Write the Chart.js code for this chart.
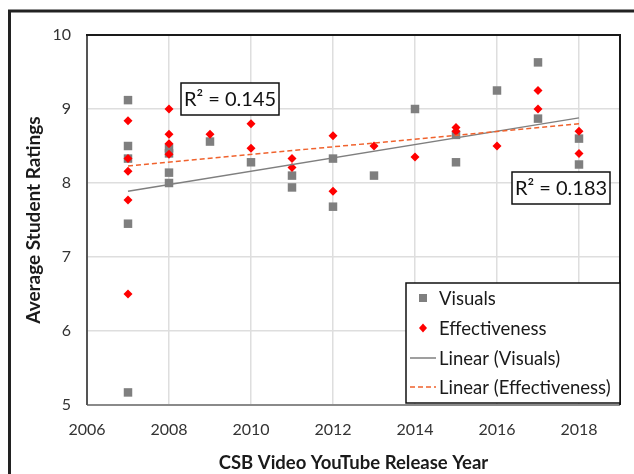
<!DOCTYPE html>
<html>
<head>
<meta charset="utf-8">
<script src="https://cdn.jsdelivr.net/npm/chart.js@4/dist/chart.umd.min.js"></script>
<style>
  html, body { margin: 0; padding: 0; background: #ffffff; }
  #wrap { width: 634px; height: 474px; }
</style>
</head>
<body>
<div id="wrap"><canvas id="chart" width="634" height="474"></canvas></div>
<script>
// Ratings per video, by YouTube release year
const visualsYears  = [2007, 2007, 2007, 2007, 2007, 2008, 2008, 2008, 2008, 2009, 2010, 2011, 2011, 2012, 2012, 2013, 2014, 2015, 2015, 2016, 2017, 2017, 2018, 2018];
const visualsScores = [9.12, 8.50, 8.33, 7.45, 5.17, 8.47, 8.40, 8.14, 8.00, 8.56, 8.28, 8.10, 7.94, 8.33, 7.68, 8.10, 9.00, 8.65, 8.28, 9.25, 9.63, 8.87, 8.60, 8.25];

const effectivenessYears  = [2007, 2007, 2007, 2007, 2007, 2008, 2008, 2008, 2008, 2009, 2010, 2010, 2011, 2011, 2012, 2012, 2013, 2014, 2015, 2015, 2016, 2017, 2017, 2018, 2018];
const effectivenessScores = [8.84, 8.33, 8.16, 7.77, 6.50, 9.00, 8.66, 8.53, 8.39, 8.66, 8.80, 8.47, 8.33, 8.21, 8.64, 7.89, 8.50, 8.35, 8.75, 8.70, 8.50, 9.25, 9.00, 8.70, 8.40];

// Linear trend lines (end points) and their fit quality
const trendYears = [2007, 2018];
const visualsTrend = [7.89, 8.88];
const effectivenessTrend = [8.23, 8.80];
const visualsR2 = '0.183';
const effectivenessR2 = '0.145';

// Axis settings
const xTicks = [2006, 2008, 2010, 2012, 2014, 2016, 2018];
const yTicks = [5, 6, 7, 8, 9, 10];

const legendLabels = ['Visuals', 'Effectiveness', 'Linear (Visuals)', 'Linear (Effectiveness)'];

const FONT = 'Lato, "Open Sans", sans-serif';
const GREY = '#7f7f7f';
const RED = '#ff0000';
const ORANGE = '#f0622d';

const toPoints = (xs, ys) => xs.map((x, i) => ({ x: x, y: ys[i] }));

const framePlugin = {
  id: 'frame',
  beforeDatasetsDraw(chart) {
    const { ctx, chartArea: a } = chart;
    ctx.save();
    ctx.lineWidth = 2;
    ctx.strokeStyle = '#8a8a8a';
    ctx.beginPath(); ctx.moveTo(a.left, a.bottom); ctx.lineTo(a.right, a.bottom); ctx.stroke();
    ctx.strokeStyle = '#555555';
    ctx.beginPath(); ctx.moveTo(a.left, a.top); ctx.lineTo(a.left, a.bottom); ctx.stroke();
    ctx.strokeStyle = '#1a1a1a';
    ctx.beginPath(); ctx.moveTo(a.left - 1, a.top); ctx.lineTo(a.right, a.top); ctx.lineTo(a.right, a.bottom); ctx.stroke();
    ctx.restore();
  },
  afterDraw(chart) {
    const { ctx, chartArea: a } = chart;
    ctx.save();

    // R² boxes
    const r2Box = (cx, cy, text) => {
      ctx.font = '20px ' + FONT;
      const w = 98, h = 32;
      ctx.fillStyle = '#ffffff';
      ctx.fillRect(cx - w / 2, cy - h / 2, w, h);
      ctx.lineWidth = 1.5;
      ctx.strokeStyle = '#111111';
      ctx.strokeRect(cx - w / 2, cy - h / 2, w, h);
      ctx.fillStyle = '#111111';
      ctx.textAlign = 'center';
      ctx.textBaseline = 'middle';
      ctx.fillText(text, cx, cy + 1);
    };
    r2Box(a.left + 143, a.top + 64, 'R\u00B2 = ' + effectivenessR2);
    r2Box(a.right - 59, a.top + 153, 'R\u00B2 = ' + visualsR2);

    // Legend box
    const lx = a.left + 319, ly = a.top + 248, lw = a.right - (a.left + 319), lh = a.bottom - 2 - ly;
    ctx.fillStyle = '#ffffff';
    ctx.fillRect(lx, ly, lw, lh);
    ctx.lineWidth = 1.5;
    ctx.strokeStyle = '#111111';
    ctx.strokeRect(lx, ly, lw, lh);

    ctx.font = '18.5px ' + FONT;
    ctx.textAlign = 'left';
    ctx.textBaseline = 'middle';
    const rows = [ly + 15, ly + 45, ly + 75, ly + 104];
    const symX = lx + 17, textX = lx + 33;
    // square marker
    ctx.fillStyle = GREY;
    ctx.fillRect(symX - 4, rows[0] - 4, 8, 8);
    // diamond marker
    ctx.fillStyle = RED;
    ctx.beginPath();
    ctx.moveTo(symX, rows[1] - 4.5); ctx.lineTo(symX + 4, rows[1]);
    ctx.lineTo(symX, rows[1] + 4.5); ctx.lineTo(symX - 4, rows[1]);
    ctx.closePath(); ctx.fill();
    // trend line samples
    ctx.lineWidth = 1.5;
    ctx.strokeStyle = GREY;
    ctx.beginPath(); ctx.moveTo(lx + 4, rows[2]); ctx.lineTo(lx + 30, rows[2]); ctx.stroke();
    ctx.strokeStyle = ORANGE;
    ctx.setLineDash([5, 3]);
    ctx.beginPath(); ctx.moveTo(lx + 4, rows[3]); ctx.lineTo(lx + 30, rows[3]); ctx.stroke();
    ctx.setLineDash([]);
    ctx.fillStyle = '#1a1a1a';
    legendLabels.forEach((t, i) => ctx.fillText(t, textX, rows[i] + 1));

    // Outer frame (left and top edges)
    ctx.strokeStyle = '#222222';
    ctx.lineWidth = 3;
    ctx.beginPath();
    ctx.moveTo(9.5, 474); ctx.lineTo(9.5, 11); ctx.lineTo(634, 11);
    ctx.stroke();
    ctx.restore();
  }
};

new Chart(document.getElementById('chart'), {
  type: 'scatter',
  data: {
    datasets: [
      {
        label: legendLabels[0],
        data: toPoints(visualsYears, visualsScores),
        pointStyle: 'rect',
        pointRadius: 6,
        backgroundColor: GREY,
        borderColor: GREY,
        borderWidth: 0,
        order: 4
      },
      {
        label: legendLabels[1],
        data: toPoints(effectivenessYears, effectivenessScores),
        pointStyle: 'rectRot',
        pointRadius: 4.5,
        backgroundColor: RED,
        borderColor: RED,
        borderWidth: 0,
        order: 3
      },
      {
        label: legendLabels[2],
        data: toPoints(trendYears, visualsTrend),
        showLine: true,
        pointRadius: 0,
        borderColor: GREY,
        borderWidth: 1.5,
        order: 2
      },
      {
        label: legendLabels[3],
        data: toPoints(trendYears, effectivenessTrend),
        showLine: true,
        pointRadius: 0,
        borderColor: ORANGE,
        borderWidth: 1.5,
        borderDash: [5, 3],
        order: 1
      }
    ]
  },
  options: {
    responsive: false,
    animation: false,
    events: [],
    layout: { padding: { top: 35, right: 14, left: 0, bottom: 0 } },
    plugins: { legend: { display: false }, tooltip: { enabled: false } },
    scales: {
      x: {
        type: 'linear',
        min: 2006,
        max: 2019,
        afterBuildTicks(scale) { scale.ticks = xTicks.map(v => ({ value: v })); },
        afterFit(scale) { scale.height = 69; },
        grid: { color: '#dedede', lineWidth: 1.5, drawTicks: false },
        border: { display: false },
        ticks: {
          padding: 15,
          color: '#333333',
          font: { family: FONT, size: 16 },
          maxRotation: 0,
          callback: v => String(v)
        },
        title: {
          display: true,
          text: 'CSB Video YouTube Release Year',
          color: '#1a1a1a',
          font: { family: FONT, size: 18.5, weight: 'bold' },
          padding: { top: 0, bottom: 0 }
        }
      },
      y: {
        min: 5,
        max: 10,
        afterBuildTicks(scale) { scale.ticks = yTicks.map(v => ({ value: v })); },
        afterFit(scale) { scale.width = 87; },
        grid: { color: '#dedede', lineWidth: 1.5, drawTicks: false },
        border: { display: false },
        ticks: { padding: 16, color: '#333333', font: { family: FONT, size: 16 }, callback: v => String(v) },
        title: {
          display: true,
          text: 'Average Student Ratings',
          color: '#1a1a1a',
          font: { family: FONT, size: 19, weight: 'bold' },
          padding: { top: 22, bottom: 0 }
        }
      }
    }
  },
  plugins: [framePlugin]
});
</script>
</body>
</html>
